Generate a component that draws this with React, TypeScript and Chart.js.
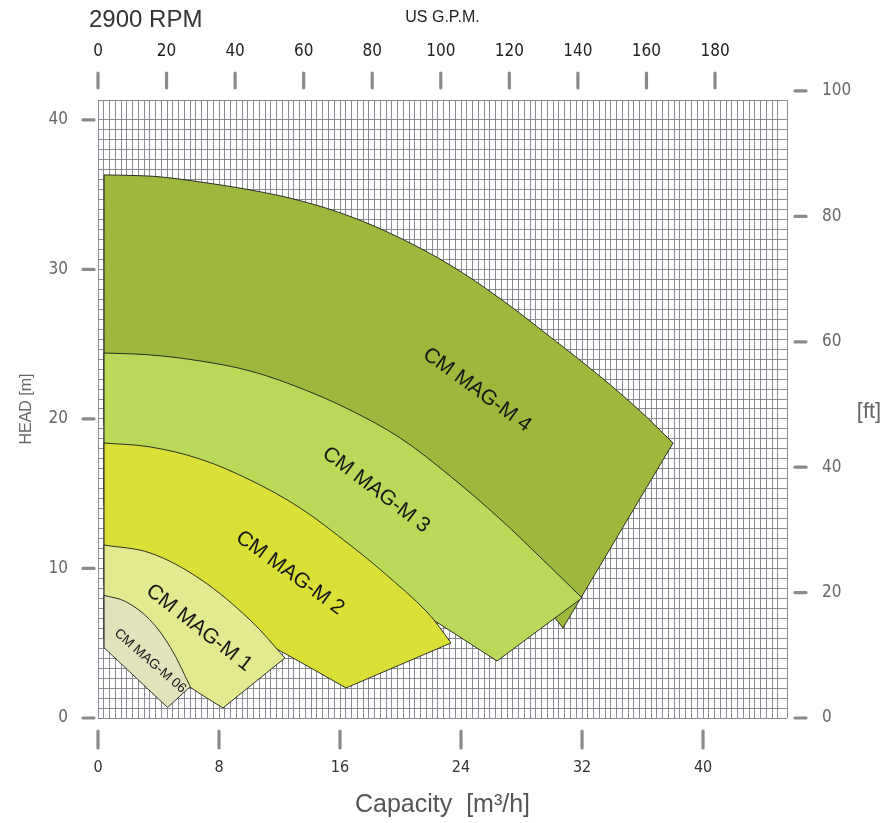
import React, { useEffect, useRef } from 'react';
import { Chart, registerables } from 'chart.js';

Chart.register(...registerables);

// ---------- axis tick labels ----------
const capacityTicks = [0, 8, 16, 24, 32, 40]; // m3/h (bottom)
const gpmTicks = [0, 20, 40, 60, 80, 100, 120, 140, 160, 180]; // US GPM (top)
const headTicks = [0, 10, 20, 30, 40]; // m (left)
const ftTicks = [0, 20, 40, 60, 80, 100]; // ft (right)

// ---------- pump ranges (Q in m3/h, H in m) ----------
const pumpNames = ['CM MAG-M 06', 'CM MAG-M 1', 'CM MAG-M 2', 'CM MAG-M 3', 'CM MAG-M 4'];

// CM MAG-M 06
const m06TopQ = [0.4, 1.8, 3.4, 4.8, 6.1];
const m06TopH = [8.2, 7.8, 6.6, 4.7, 2.1];
const m06EndQ = [4.6];
const m06EndH = [0.7];
const m06LowQ = [2.5, 0.4];
const m06LowH = [2.7, 4.7];

// CM MAG-M 1
const m1TopQ = [0.4, 3.44, 6.74, 10.05, 12.36];
const m1TopH = [11.57, 11.04, 9.3, 6.56, 4.01];
const m1EndQ = [8.26];
const m1EndH = [0.67];
const m1LowQ = [6.08, 4.1, 2.12, 0.4];
const m1LowH = [2.07, 3.61, 4.62, 5.35];

// CM MAG-M 2
const m2TopQ = [0.4, 3.44, 6.74, 10.05, 13.36, 16.66, 18.84, 21.75, 23.34];
const m2TopH = [18.39, 18.13, 17.32, 15.92, 14.05, 11.57, 9.77, 7.09, 5.02];
const m2EndQ = [16.4];
const m2EndH = [2.01];
const m2LowQ = [11.7, 8.73, 5.42, 0.4];
const m2LowH = [4.68, 6.22, 7.89, 8.9];

// CM MAG-M 3
const m3TopQ = [0.4, 3.44, 6.74, 10.05, 13.36, 16.66, 19.97, 23.27, 26.58, 29.22, 32.0];
const m3TopH = [24.41, 24.28, 23.88, 23.21, 22.07, 20.6, 18.73, 16.19, 13.31, 10.77, 8.03];
const m3EndQ = [26.38];
const m3EndH = [3.81];
const m3LowQ = [22.15, 19.97, 16.66, 13.36, 6.74, 0.4];
const m3LowH = [6.56, 7.89, 9.9, 11.57, 13.58, 14.25];

// CM MAG-M 4
const m4TopQ = [0.4, 2.12, 4.1, 6.74, 10.05, 13.36, 16.66, 19.97, 23.27, 26.58, 29.88, 33.19, 35.83, 38.02];
const m4TopH = [36.32, 36.29, 36.19, 35.85, 35.32, 34.6, 33.55, 32.1, 30.3, 28.05, 25.5, 22.85, 20.54, 18.39];
const m4EndQ = [30.74, 30.21];
const m4EndH = [6.02, 6.69];
const m4LowQ = [26.58, 22.61, 18.64, 13.36, 6.74, 0.4];
const m4LowH = [9.23, 11.91, 14.25, 16.59, 18.6, 19.6];

// label anchors (data coordinates) and angles
const labelQ = [3.44, 6.68, 12.69, 18.38, 25.06];
const labelH = [3.81, 6.02, 9.7, 15.25, 21.94];
const labelAngle = [41, 38, 36, 37, 36];
const labelSize = [13.5, 21, 21, 21, 21];

const fills = ['#e1e3bb', '#e2e98e', '#dbe036', '#bbd958', '#9db83b'];

const NARROW =
  "'Liberation Sans Narrow', 'Arial Narrow', 'DejaVu Sans Condensed', 'Liberation Sans', sans-serif";
const SANS = "'Liberation Sans', Arial, Helvetica, sans-serif";
const GRID = 'rgba(128,128,136,0.9)';

type P = { x: number; y: number };

function outline(tq: number[], th: number[], eq: number[], eh: number[], lq: number[], lh: number[]): P[] {
  const pts: P[] = [];
  tq.forEach((q, i) => pts.push({ x: q, y: th[i] }));
  // duplicate corner points so the spline keeps sharp corners
  pts.push({ x: tq[tq.length - 1], y: th[th.length - 1] });
  eq.forEach((q, i) => {
    pts.push({ x: q, y: eh[i] });
    pts.push({ x: q, y: eh[i] });
  });
  lq.forEach((q, i) => pts.push({ x: q, y: lh[i] }));
  pts.push({ x: lq[lq.length - 1], y: lh[lh.length - 1] });
  pts.push({ x: tq[0], y: th[0] });
  return pts;
}

const shapes: P[][] = [
  outline(m06TopQ, m06TopH, m06EndQ, m06EndH, m06LowQ, m06LowH),
  outline(m1TopQ, m1TopH, m1EndQ, m1EndH, m1LowQ, m1LowH),
  outline(m2TopQ, m2TopH, m2EndQ, m2EndH, m2LowQ, m2LowH),
  outline(m3TopQ, m3TopH, m3EndQ, m3EndH, m3LowQ, m3LowH),
  outline(m4TopQ, m4TopH, m4EndQ, m4EndH, m4LowQ, m4LowH),
];

const near = (arr: number[], v: number) => arr.some((t) => Math.abs(t - v) < 1e-6);

const decor = {
  id: 'decor',
  afterDatasetsDraw(chart: any) {
    const ctx = chart.ctx as CanvasRenderingContext2D;
    const xs = chart.scales.x;
    const ys = chart.scales.y;
    ctx.save();
    ctx.fillStyle = '#161616';
    ctx.textAlign = 'center';
    ctx.textBaseline = 'middle';
    pumpNames.forEach((name, i) => {
      const px = xs.getPixelForValue(labelQ[i]);
      const py = ys.getPixelForValue(labelH[i]);
      ctx.save();
      ctx.translate(px, py);
      ctx.rotate((labelAngle[i] * Math.PI) / 180);
      ctx.font = `${labelSize[i]}px ${SANS}`;
      ctx.fillText(name, 0, 0);
      ctx.restore();
    });
    ctx.restore();
  },
  afterDraw(chart: any) {
    const ctx = chart.ctx as CanvasRenderingContext2D;
    const { left, right, top, bottom } = chart.chartArea;
    const xs = chart.scales.x;
    const ys = chart.scales.y;
    const x2 = chart.scales.x2;
    const y2 = chart.scales.y2;
    ctx.save();
    ctx.strokeStyle = '#8a8a8e';
    ctx.lineWidth = 3.2;
    ctx.lineCap = 'round';
    const seg = (a: number, b: number, c: number, d: number) => {
      ctx.beginPath();
      ctx.moveTo(a, b);
      ctx.lineTo(c, d);
      ctx.stroke();
    };
    headTicks.forEach((v) => {
      const y = ys.getPixelForValue(v);
      seg(left - 15, y, left - 4, y);
    });
    ftTicks.forEach((v) => {
      const y = y2.getPixelForValue(v);
      seg(right + 8, y, right + 19, y);
    });
    capacityTicks.forEach((v) => {
      const x = xs.getPixelForValue(v);
      seg(x, bottom + 13, x, bottom + 30);
    });
    gpmTicks.forEach((v) => {
      const x = x2.getPixelForValue(v);
      seg(x, top - 27, x, top - 12);
    });
    // right-hand ft labels
    ctx.fillStyle = '#666';
    ctx.font = `17px ${NARROW}`;
    ctx.textAlign = 'left';
    ctx.textBaseline = 'middle';
    ftTicks.forEach((v) => {
      ctx.fillText(String(v), right + 35, y2.getPixelForValue(v));
    });
    ctx.font = `22px ${SANS}`;
    ctx.textAlign = 'center';
    ctx.fillText('[ft]', right + 82, (top + bottom) / 2 + 3);
    // speed
    ctx.fillStyle = '#333';
    ctx.font = `24px ${SANS}`;
    ctx.textAlign = 'left';
    ctx.fillText('2900 RPM', 89, 20);
    ctx.restore();
  },
};

export default function App() {
  const ref = useRef<HTMLCanvasElement | null>(null);
  useEffect(() => {
    if (!ref.current) return;
    const chart = new Chart(ref.current, {
      type: 'line',
      data: {
        datasets: shapes.map((pts, i) => ({
          label: pumpNames[i],
          data: pts,
          fill: 'shape',
          backgroundColor: fills[i],
          borderColor: '#1c1c1c',
          borderWidth: 0.9,
          pointRadius: 0,
          tension: 0.35,
          borderJoinStyle: 'miter',
        })),
      } as any,
      options: {
        responsive: false,
        animation: false,
        events: [],
        layout: { padding: { left: 0, top: 0, right: 93, bottom: 0 } },
        plugins: { legend: { display: false }, tooltip: { enabled: false }, title: { display: false } },
        scales: {
          x: {
            type: 'linear',
            position: 'bottom',
            min: 0,
            max: 45.55,
            afterFit: (s: any) => {
              s.height = 105;
            },
            border: { display: false },
            grid: { color: GRID, lineWidth: 1, drawTicks: false },
            ticks: {
              stepSize: 8 / 21,
              autoSkip: false,
              maxRotation: 0,
              minRotation: 0,
              padding: 40,
              color: '#333',
              font: { family: NARROW, size: 16 },
              callback: (v: any) => (near(capacityTicks, Number(v)) ? String(Math.round(Number(v))) : ''),
            },
            title: {
              display: true,
              text: 'Capacity  [m³/h]',
              color: '#555',
              font: { family: SANS, size: 25 },
              padding: { top: 0, bottom: 3 },
            },
          },
          x2: {
            type: 'linear',
            position: 'top',
            min: 0,
            max: 201,
            afterFit: (s: any) => {
              s.height = 100;
            },
            border: { display: false },
            grid: { display: false, drawTicks: false },
            ticks: {
              stepSize: 20,
              includeBounds: false,
              autoSkip: false,
              maxRotation: 0,
              minRotation: 0,
              padding: 38,
              color: '#222',
              font: { family: NARROW, size: 17 },
              callback: (v: any) => (near(gpmTicks, Number(v)) ? String(Math.round(Number(v))) : ''),
            },
            title: {
              display: true,
              text: 'US G.P.M.',
              color: '#222',
              font: { family: SANS, size: 16 },
              padding: { top: 8, bottom: 0 },
            },
          },
          y: {
            type: 'linear',
            position: 'left',
            min: 0,
            max: 41.33,
            afterFit: (s: any) => {
              s.width = 98;
            },
            border: { display: false },
            grid: { color: GRID, lineWidth: 1, drawTicks: false },
            ticks: {
              stepSize: 2 / 3,
              autoSkip: false,
              padding: 30,
              color: '#666',
              font: { family: NARROW, size: 17 },
              callback: (v: any) => (near(headTicks, Number(v)) ? String(Math.round(Number(v))) : ''),
            },
            title: {
              display: true,
              text: 'HEAD [m]',
              color: '#666',
              font: { family: SANS, size: 16 },
              padding: { top: 17, bottom: 0 },
            },
          },
          y2: {
            type: 'linear',
            position: 'right',
            display: false,
            min: 0,
            max: 98.56,
          },
        },
      } as any,
      plugins: [decor],
    });
    return () => chart.destroy();
  }, []);
  return (
    <div style={{ position: 'fixed', left: 0, top: 0, width: 880, height: 823, background: '#fff' }}>
      <canvas ref={ref} width={880} height={823} style={{ display: 'block', width: 880, height: 823 }} />
    </div>
  );
}
